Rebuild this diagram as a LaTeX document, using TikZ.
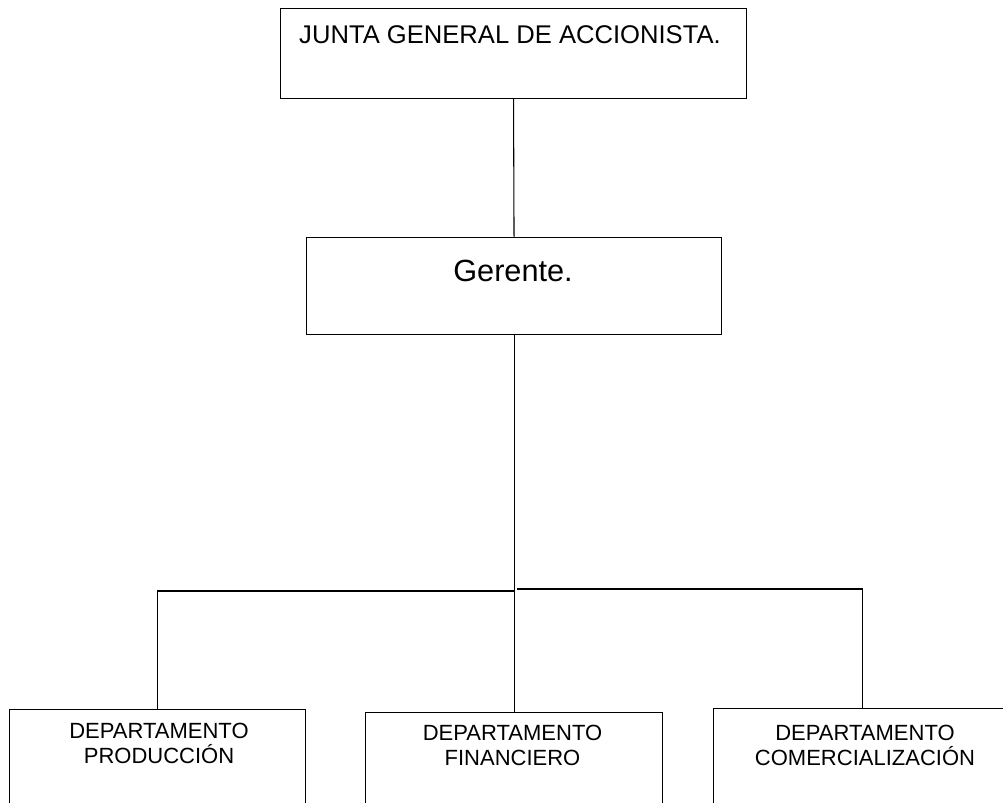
\documentclass[tikz,border=0pt]{standalone}
\usepackage{fontspec}
\setmainfont{Liberation Sans}
\begin{document}
\begin{tikzpicture}[x=0.75pt,y=-0.75pt,
  box/.style={draw=black,line width=0.8pt,rectangle,inner sep=0pt,anchor=north west},
  conn/.style={draw=black,line width=0.8pt},
  bigtxt/.style={inner sep=0pt,anchor=base,font=\fontsize{19.2}{22}\selectfont},
  gertxt/.style={inner sep=0pt,anchor=base,font=\fontsize{23}{26}\selectfont},
  deptxt/.style={inner sep=0pt,anchor=base,align=center,font=\fontsize{16.5}{18.75}\selectfont}]
\useasboundingbox (0,0) rectangle (1003,803);
\clip (0,0) rectangle (1003,803);
\fill[white] (0,0) rectangle (1003,803);
% boxes
\node[box,minimum width=349.5pt,minimum height=67.5pt] (junta) at (280,8) {};
\node[box,minimum width=311.25pt,minimum height=72.75pt] (ger) at (306,237) {};
\node[box,minimum width=222pt,minimum height=105pt] (prod) at (9,709) {};
\node[box,minimum width=222.75pt,minimum height=105pt] (fin) at (365,712) {};
\node[box,minimum width=222.75pt,minimum height=105pt] (com) at (713,708) {};
% texts
\node[bigtxt] (tjunta) at (510,43) {JUNTA GENERAL DE ACCIONISTA.};
\node[gertxt] (tger) at (513,281) {Gerente.};
\node[deptxt] (tprod) at (159,763) {DEPARTAMENTO\\PRODUCCIÓN};
\node[deptxt] (tfin) at (512.5,765) {DEPARTAMENTO\\FINANCIERO};
\node[deptxt] (tcom) at (865,765) {DEPARTAMENTO\\COMERCIALIZACIÓN};
% connectors
\coordinate (jl) at (514,591);
\coordinate (jr) at (517,589);
\draw[conn] (junta.south) -- (ger.north);
\draw[conn] (ger.south) -- (fin.north);
\draw[conn] (prod.north) |- (jl);
\draw[conn] (jr) -| (com.north);
\end{tikzpicture}
\end{document}
